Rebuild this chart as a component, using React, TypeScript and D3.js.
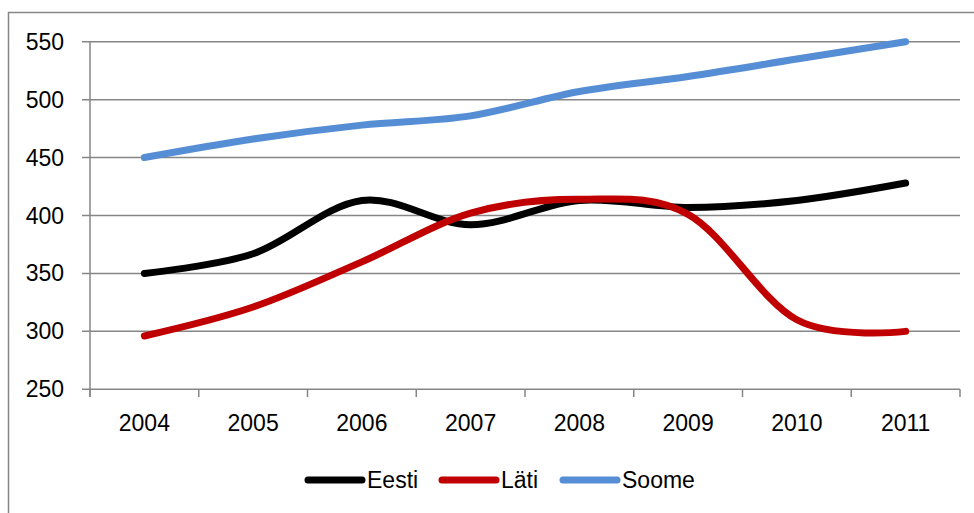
import React from "react";
import * as d3 from "d3";

const years = ["2004", "2005", "2006", "2007", "2008", "2009", "2010", "2011"];
const eesti = [350, 367, 413, 392, 413, 407, 413, 428];
const lati = [296, 321, 360, 402, 414, 401, 310, 300];
const soome = [450, 466, 478, 486, 507, 520, 535, 550];
const yTicks = [250, 300, 350, 400, 450, 500, 550];

const seriesNames = ["Eesti", "Läti", "Soome"];
const seriesColors = ["#000000", "#C00000", "#558ED5"];

const W = 974;
const H = 513;
const FONT = "'Liberation Sans', Arial, sans-serif";

export default function App() {
  const x = d3.scaleBand<string>().domain(years).range([90, 960]);
  const y = d3.scaleLinear().domain([250, 550]).range([389.3, 41.7]);
  const cx = (yr: string) => (x(yr) as number) + x.bandwidth() / 2;
  const line = d3
    .line<number>()
    .x((_, i) => cx(years[i]))
    .y((v) => y(v))
    .curve(d3.curveCardinal.tension(0));
  const data = [eesti, lati, soome];
  const grid = "#868686";
  const boundaries = d3.range(years.length + 1).map((i) => 90 + i * x.step());
  const legendX = [308, 442, 563];

  return (
    <svg
      width={W}
      height={H}
      style={{ position: "absolute", left: 0, top: 0, background: "#fff" }}
    >
      <rect x={8.5} y={12.5} width={1000} height={600} fill="#fff" stroke={grid} strokeWidth={1.5} />
      {yTicks.map((t) => (
        <g key={t}>
          <line x1={82} x2={960} y1={y(t)} y2={y(t)} stroke={grid} strokeWidth={1.5} />
          <text
            x={64}
            y={y(t)}
            dy="0.35em"
            textAnchor="end"
            fontFamily={FONT}
            fontSize={23}
            fill="#000"
          >
            {t}
          </text>
        </g>
      ))}
      <line x1={90} x2={90} y1={y(550)} y2={397} stroke={grid} strokeWidth={1.5} />
      {boundaries.map((bx, i) => (
        <line key={i} x1={bx} x2={bx} y1={y(250)} y2={397} stroke={grid} strokeWidth={1.5} />
      ))}
      {years.map((yr) => (
        <text
          key={yr}
          x={cx(yr)}
          y={423}
          dy="0.35em"
          textAnchor="middle"
          fontFamily={FONT}
          fontSize={23}
          fill="#000"
        >
          {yr}
        </text>
      ))}
      {data.map((d, i) => (
        <path
          key={seriesNames[i]}
          d={line(d) as string}
          fill="none"
          stroke={seriesColors[i]}
          strokeWidth={7}
          strokeLinecap="round"
          strokeLinejoin="round"
        />
      ))}
      {seriesNames.map((n, i) => (
        <g key={n}>
          <line
            x1={legendX[i]}
            x2={legendX[i] + 54}
            y1={480}
            y2={480}
            stroke={seriesColors[i]}
            strokeWidth={7}
            strokeLinecap="round"
          />
          <text
            x={legendX[i] + 59}
            y={480}
            dy="0.35em"
            fontFamily={FONT}
            fontSize={23}
            fill="#000"
          >
            {n}
          </text>
        </g>
      ))}
    </svg>
  );
}
